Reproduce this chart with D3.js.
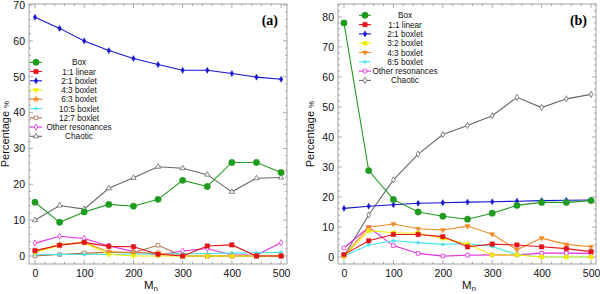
<!DOCTYPE html>
<html><head><meta charset="utf-8">
<script src="https://cdn.jsdelivr.net/npm/d3@7"></script>
<style>body{margin:0;background:#fff}svg{display:block}.plab{font-family:"Liberation Serif","DejaVu Serif",serif !important;font-weight:bold}</style>
</head><body><svg id="c" width="600" height="294" font-family="Liberation Sans, Arial, sans-serif"></svg>
<script>
const mn = [0,50,100,150,200,250,300,350,400,450,500];
const xTicks = [0,100,200,300,400,500];
const yTicksA = [0,10,20,30,40,50,60,70];
const yTicksB = [0,10,20,30,40,50,60,70,80];

// Panel (a)
const aBox      = [15.0,9.4,12.3,14.4,13.9,15.8,21.1,19.4,26.1,26.1,23.3];
const aLinear11 = [1.5,3.0,3.8,2.7,2.6,0.5,0.0,2.8,3.1,0.0,0.0];
const aBoxlet21 = [66.6,63.5,60.0,57.3,55.1,53.4,51.8,51.8,50.9,49.9,49.3];
const aBoxlet43 = [1.0,3.0,3.7,0.4,0.0,0.0,0.0,0.0,0.0,0.0,0.0];
const aBoxlet63 = [1.4,3.2,3.8,1.2,0.9,0.9,0.0,0.0,0.0,0.0,0.0];
const aBoxlet105= [0.4,0.4,0.4,0.4,0.6,0.6,0.6,0.7,0.8,0.9,1.0];
const aBoxlet127= [0.0,0.4,0.8,1.0,1.0,3.0,0.0,0.0,0.0,0.0,0.0];
const aOther    = [3.6,5.5,4.9,2.8,1.3,0.3,1.4,2.1,0.3,0.3,3.7];
const aChaotic  = [10.0,14.1,13.1,18.9,21.8,24.9,24.5,22.7,17.9,21.7,21.9];

// Panel (b)
const bBox      = [78.0,28.8,19.2,15.0,13.6,12.6,14.6,17.2,18.2,18.2,18.8];
const bLinear11 = [0.8,5.4,7.5,7.5,6.8,3.4,4.3,4.0,3.4,2.8,1.8];
const bBoxlet21 = [16.2,16.9,17.4,17.9,18.1,18.3,18.4,18.6,18.8,18.9,19.0];
const bBoxlet32 = [0.2,8.8,8.1,7.9,6.2,4.3,0.7,0.7,0.0,0.0,0.0];
const bBoxlet43 = [0.5,9.9,11.0,9.4,9.0,10.3,7.6,2.4,6.3,4.2,3.4];
const bBoxlet85 = [0.3,4.0,5.4,4.8,4.2,4.5,3.5,0.8,0.0,0.0,0.0];
const bOther    = [3.0,9.9,3.8,1.2,0.3,0.6,0.7,0.7,1.3,1.3,1.2];
const bChaotic  = [0.3,14.0,25.7,34.3,40.8,43.8,47.1,53.2,49.8,52.7,54.2];

const C = {green:"#1f9b1f", red:"#e3121b", blue:"#1414cc", yellow:"#f2ea00", orange:"#f08a24",
           cyan:"#44e4ea", brown:"#a8704c", magenta:"#e22ee2", gray:"#666666"};

const seriesA = [
  {name:"Box", v:aBox, c:C.green, sym:"circle", size:32, fill:true},
  {name:"1:1 linear", v:aLinear11, c:C.red, sym:"square", size:20, fill:true},
  {name:"2:1 boxlet", v:aBoxlet21, c:C.blue, sym:"diamond", size:11, fill:true},
  {name:"4:3 boxlet", v:aBoxlet43, c:C.yellow, sym:"tridown", size:12, fill:true},
  {name:"6:3 boxlet", v:aBoxlet63, c:C.orange, sym:"star", size:12, fill:true},
  {name:"10:5 boxlet", v:aBoxlet105, c:C.cyan, sym:"cross", size:6, fill:true},
  {name:"12:7 boxlet", v:aBoxlet127, c:C.brown, sym:"square", size:13, fill:false},
  {name:"Other resonances", v:aOther, c:C.magenta, sym:"diamond", size:11, fill:false},
  {name:"Chaotic", v:aChaotic, c:C.gray, sym:"triangle", size:12, fill:false}
];
const seriesB = [
  {name:"Box", v:bBox, c:C.green, sym:"circle", size:32, fill:true},
  {name:"1:1 linear", v:bLinear11, c:C.red, sym:"square", size:20, fill:true},
  {name:"2:1 boxlet", v:bBoxlet21, c:C.blue, sym:"diamond", size:11, fill:true},
  {name:"3:2 boxlet", v:bBoxlet32, c:C.yellow, sym:"square", size:16, fill:true},
  {name:"4:3 boxlet", v:bBoxlet43, c:C.orange, sym:"tridown", size:12, fill:true},
  {name:"8:5 boxlet", v:bBoxlet85, c:C.cyan, sym:"cross", size:6, fill:true},
  {name:"Other resonances", v:bOther, c:C.magenta, sym:"square", size:13, fill:false},
  {name:"Chaotic", v:bChaotic, c:C.gray, sym:"diamond", size:11, fill:false}
];

const svg = d3.select("#c");

function symPath(s){
  const t = {circle:d3.symbolCircle, square:d3.symbolSquare, diamond:d3.symbolDiamond,
    triangle:d3.symbolTriangle, tridown:d3.symbolTriangle, star:d3.symbolStar, cross:d3.symbolCross}[s.sym];
  return d3.symbol().type(t).size(s.size)();
}
function drawMarker(g, s, x, y){
  g.append("path").attr("d", symPath(s))
    .attr("transform", `translate(${x},${y})` + (s.sym==="tridown"?" rotate(180)":""))
    .attr("fill", s.fill ? s.c : "#fff").attr("stroke", s.c).attr("stroke-width", s.fill?0.4:0.8);
}

function panel(o){
  const x = d3.scaleLinear().domain(o.xd).range([o.l, o.r]);
  const y = d3.scaleLinear().domain(o.yd).range([o.b, o.t]);
  const g = svg.append("g");
  const fc = "#8a8a8a";
  g.append("rect").attr("x",o.l).attr("y",o.t).attr("width",o.r-o.l).attr("height",o.b-o.t)
    .attr("fill","none").attr("stroke",fc).attr("stroke-width",0.8);
  const xMinor = d3.range(0, 501, 20), yMinor = d3.range(0, o.yd[1], 2);
  xMinor.forEach(v=>{
    const major = v%100===0, len = major?4:2;
    [[o.b,-len],[o.t,len]].forEach(([yy,d])=>g.append("line").attr("x1",x(v)).attr("x2",x(v))
      .attr("y1",yy).attr("y2",yy+d).attr("stroke",fc).attr("stroke-width",0.7));
  });
  yMinor.forEach(v=>{
    const major = v%10===0, len = major?4:2;
    [[o.l,len],[o.r,-len]].forEach(([xx,d])=>g.append("line").attr("y1",y(v)).attr("y2",y(v))
      .attr("x1",xx).attr("x2",xx+d).attr("stroke",fc).attr("stroke-width",0.7));
  });
  const ax = g.append("g").attr("transform",`translate(0,${o.b})`)
    .call(d3.axisBottom(x).tickValues(xTicks).tickSize(0).tickPadding(6));
  ax.select(".domain").remove();
  ax.selectAll("text").attr("font-size",10.5).attr("fill","#111").attr("font-family","Liberation Sans, Arial, sans-serif");
  const ay = g.append("g").attr("transform",`translate(${o.l},0)`)
    .call(d3.axisLeft(y).tickValues(o.yt).tickSize(0).tickPadding(4));
  ay.select(".domain").remove();
  ay.selectAll("text").attr("font-size",10.5).attr("fill","#111").attr("font-family","Liberation Sans, Arial, sans-serif");
  const xt = g.append("text").attr("x",o.mx).attr("y",289).attr("font-size",11.5).attr("fill","#111");
  xt.append("tspan").text("M");
  xt.append("tspan").text("n").attr("font-size",8).attr("dy",2);
  const yt = g.append("text").attr("transform",`translate(${o.yx},${(o.t+o.b)/2}) rotate(-90)`)
    .attr("text-anchor","middle").attr("font-size",11).attr("fill","#111");
  yt.append("tspan").text("Percentage ");
  yt.append("tspan").text("%").attr("font-size",8);
  g.append("text").attr("class","plab").attr("x",o.r-9).attr("y",25).attr("text-anchor","end")
    .style("font-family","'Liberation Serif','DejaVu Serif',serif").attr("font-size",14).text(o.label);
  const line = d3.line().x((d,i)=>x(mn[i])).y(d=>y(d));
  const clip = "clip"+o.label.replace(/\W/g,"");
  svg.append("clipPath").attr("id",clip).append("rect").attr("x",o.l).attr("y",o.t).attr("width",o.r-o.l).attr("height",o.b-o.t);
  const sg = g.append("g").attr("clip-path",`url(#${clip})`);
  o.series.slice().reverse().forEach(s=>{
    sg.append("path").attr("d",line(s.v)).attr("fill","none").attr("stroke",s.c).attr("stroke-width",1.1);
    s.v.forEach((v,i)=>drawMarker(sg,s,x(mn[i]),y(v)));
  });
  o.series.forEach((s,i)=>{
    const yy = o.ly + i*o.ls;
    g.append("line").attr("x1",o.lx-6).attr("x2",o.lx+6).attr("y1",yy).attr("y2",yy).attr("stroke",s.c).attr("stroke-width",1.1);
    drawMarker(g,s,o.lx,yy);
    g.append("text").attr("x",o.tx).attr("y",yy+3).attr("text-anchor","middle").attr("font-size",8.2)
      .attr("fill","#111").text(s.name);
  });
}

panel({l:29,r:287,t:4,b:264,xd:[-12.2,512],yd:[-2.23,70.3],yt:yTicksA,label:"(a)",mx:144,yx:9,
  series:seriesA,lx:36,tx:79,ly:62.3,ls:9.25});
panel({l:338,r:596,t:4,b:264,xd:[-12.1,510],yd:[-2.33,84.3],yt:yTicksB,label:"(b)",mx:462,yx:314,
  series:seriesB,lx:365,tx:405,ly:15.3,ls:9.3});
</script></body></html>
